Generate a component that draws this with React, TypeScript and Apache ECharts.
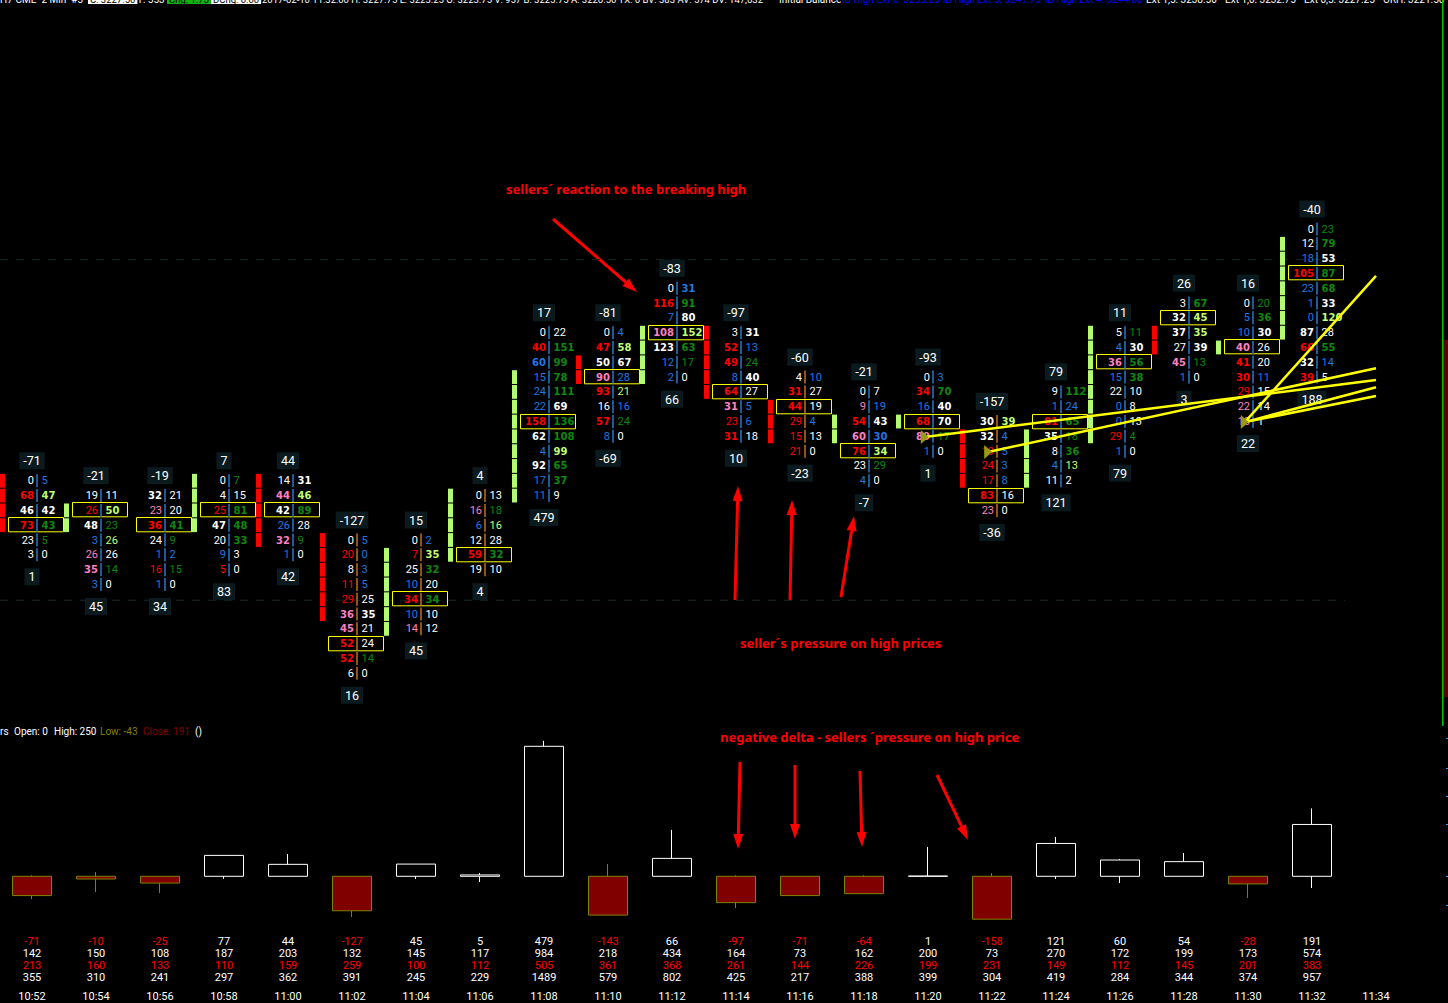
import React, { useEffect, useRef } from "react";
import * as echarts from "echarts";

const times = ["10:52","10:54","10:56","10:58","11:00","11:02","11:04","11:06","11:08","11:10","11:12","11:14","11:16","11:18","11:20","11:22","11:24","11:26","11:28","11:30","11:32","11:34"];

// Footprint per bar: [bid, ask] rows from the top price downward
const footprints: number[][][] = [
  [[0,5],[68,47],[46,42],[73,43],[23,5],[3,0]],
  [[19,11],[26,50],[48,23],[3,26],[26,26],[35,14],[3,0]],
  [[32,21],[23,20],[36,41],[24,9],[1,2],[16,15],[1,0]],
  [[0,7],[4,15],[25,81],[47,48],[20,33],[9,3],[5,0]],
  [[14,31],[44,46],[42,89],[26,28],[32,9],[1,0]],
  [[0,5],[20,0],[8,3],[11,5],[29,25],[36,35],[45,21],[52,24],[52,14],[6,0]],
  [[0,2],[7,35],[25,32],[10,20],[34,34],[10,10],[14,12]],
  [[0,13],[16,18],[6,16],[12,28],[59,32],[19,10]],
  [[0,22],[40,151],[60,99],[15,78],[24,111],[22,69],[158,136],[62,108],[4,99],[92,65],[17,37],[11,9]],
  [[0,4],[47,58],[50,67],[90,28],[93,21],[16,16],[57,24],[8,0]],
  [[0,31],[116,91],[7,80],[108,152],[123,63],[12,17],[2,0]],
  [[3,31],[52,13],[49,24],[8,40],[64,27],[31,5],[23,6],[31,18]],
  [[4,10],[31,27],[44,19],[29,4],[15,13],[21,0]],
  [[0,7],[9,19],[54,43],[60,30],[76,34],[23,29],[4,0]],
  [[0,3],[34,70],[16,40],[68,70],[89,17],[1,0]],
  [[30,39],[32,4],[19,5],[24,3],[17,8],[83,16],[23,0]],
  [[9,112],[1,24],[81,65],[35,18],[8,36],[4,13],[11,2]],
  [[5,11],[4,30],[36,56],[15,38],[22,10],[0,8],[0,13],[29,4],[1,0]],
  [[3,67],[32,45],[37,35],[27,39],[45,13],[1,0]],
  [[0,20],[5,36],[10,30],[40,26],[41,20],[30,11],[29,15],[22,14],[18,1]],
  [[0,23],[12,79],[18,53],[105,87],[23,68],[1,33],[0,120],[87,28],[66,55],[32,14],[39,5]],
];
const topPrices = [3223.5,3223.25,3223.25,3223.5,3223.5,3222.5,3222.5,3223.25,3226,3226,3226.75,3226,3225.25,3225,3225.25,3224.5,3225,3226,3226.5,3226.5,3227.75];
const pocRows = [3,1,2,2,2,7,4,4,6,3,3,4,2,4,3,5,2,2,1,3,3];
const deltaAbove = [-71,-21,-19,7,44,-127,15,4,17,-81,-83,-97,-60,-21,-93,-157,79,11,26,16,-40];
const deltaBelow = [1,45,34,83,42,16,45,4,479,-69,66,10,-23,-7,1,-36,121,79,3,22,188];

// Imbalance stacks: [bar, buy(1)/sell(0), top price, rows]
const stacks: number[][] = [
  [0,0,3223.5,4],[1,1,3223,2],[3,1,3223.5,4],[4,0,3223.5,5],[5,0,3222.5,6],[6,1,3222.25,6],[7,1,3223.25,5],
  [8,1,3225.25,9],[9,0,3225.5,2],[10,1,3226,4],[11,0,3226,5],[12,0,3224.75,3],[13,1,3224.5,2],[14,1,3224.5,1],
  [15,0,3224.25,4],[16,1,3224.25,4],[17,1,3226,8],[18,0,3226,2],[19,1,3225.75,1],[20,1,3227.5,7],
];

// Candle values
const deltaClose = [-71,-10,-25,77,44,-127,45,5,479,-143,66,-97,-71,-64,1,-158,121,60,54,-28,191];
const deltaHigh = [4,16,0,77,82,0,45,12,499,45,171,4,0,4,108,12,145,63,86,0,250];
const deltaLow = [-84,-58,-62,-9,0,-150,-10,-21,0,-143,0,-117,-71,-64,0,-158,-10,-25,0,-80,-43];
const askVolume = [142,150,108,187,203,132,145,117,984,218,434,164,73,162,200,73,270,172,199,173,574];
const bidVolume = [213,160,133,110,159,259,100,112,505,361,368,261,144,226,199,231,149,112,145,201,383];
const totalVolume = [355,310,241,297,362,391,245,229,1489,579,802,425,217,388,399,304,419,284,344,374,957];

const levelPrices = [3227.25, 3221.5];
// Yellow rays: [fromBar, fromPrice, toBar, toPrice]
const rays: number[][] = [
  [13.95,3224.24,21,3225.20],
  [14.94,3223.985,21,3225.40],
  [18.95,3224.49,21,3225.08],
  [18.95,3224.49,21,3224.93],
  [18.95,3224.49,21,3226.96],
];
const rayMarkers = [[13.95,3224.24],[14.94,3223.985],[18.95,3224.49]];

const headerBits: [string, number, string, string?][] = [
  ["H7-CME  2 Min  #5", 0, "#fff"],
  ["C: 3227.50", 88, "#000", "#fff"],
  ["T: 553", 137, "#fff"],
  ["Chg: 1.75", 167, "#000", "#0fb40f"],
  ["DChg: 0.00", 211, "#000", "#fff"],
  ["2017-02-10 11:32:00 H: 3227.75 L: 3223.25 O: 3223.75 V: 957 B: 3225.75 A: 3226.50 TX: 6 BV: 383 AV: 574 DV: 147,632", 262, "#fff"],
  ["Initial Balance", 779, "#fff"],
  ["IB High Ext 6: 3255.25", 842, "#0000ff"],
  ["IB High Ext 5: 3249.75", 943, "#0000ff"],
  ["IB High Ext 4: 3244.00", 1045, "#0000ff"],
  ["Ext 1,5: 3238.50", 1146, "#fff"],
  ["Ext 1,0: 3232.75", 1225, "#fff"],
  ["Ext 0,5: 3227.25", 1304, "#fff"],
  ["ORH: 3221.50", 1383, "#fff"],
];
const legendBits: [string, number, string][] = [
  ["rs", 0, "#fff"], ["Open: 0", 14, "#fff"], ["High: 250", 54, "#fff"],
  ["Low: -43", 100, "#808000"], ["Close: 191", 143, "#800000"], ["()", 195, "#fff"],
];
const notes: [string, number, number][] = [
  ["sellers´ reaction to the breaking high", 506, 189],
  ["seller´s pressure on high prices", 740, 643],
  ["negative delta - sellers ´pressure on high price", 720, 737],
];
const arrows: number[][] = [
  [553,219,637,292],[735,600,738,486],[790,600,792,500],[841,597,854,516],
  [740,762,738,849],[795,765,795,839],[860,771,862,847],[937,775,968,840],
];
const edgeTicks = [738, 768, 796, 824, 876, 905];

const ROW = 0.25;
const orangeSep = new Set([5, 6, 7, 12, 15]);
const TXT_R = "#ff0000", TXT_P = "#ff80c0", TXT_G = "#0a8a0a", TXT_L = "#c0ff70", TXT_B = "#1e78e6", TXT_W = "#ffffff";

function tone(own: number, other: number | undefined, strong: string, mild: string) {
  if (other === undefined || other === 0) return TXT_W;
  const r = own / other;
  if (r < 0.4) return TXT_B;
  if (r < 1) return TXT_W;
  if (r < 1.5) return mild;
  return strong;
}
function cellFont(v: number) {
  return v >= 30
    ? { fontFamily: "DejaVu Sans", fontWeight: "bold" as const, fontSize: 10 }
    : { fontFamily: "Roboto", fontWeight: "normal" as const, fontSize: 11 };
}

const cellRows: any[] = [];
footprints.forEach((rows, bar) => rows.forEach((pair, row) => {
  cellRows.push([bar, topPrices[bar] - row * ROW, pair[0], pair[1], row === pocRows[bar] ? 1 : 0,
    tone(pair[0], row > 0 ? rows[row - 1][1] : undefined, TXT_R, TXT_P),
    tone(pair[1], row < rows.length - 1 ? rows[row + 1][0] : undefined, TXT_G, TXT_L)]);
}));
const stackRows: number[][] = [];
stacks.forEach(([bar, buy, top, n]) => { for (let i = 0; i < n; i++) stackRows.push([bar, top - i * ROW, buy]); });

function renderCell(_: any, api: any) {
  const bar = api.value(0), price = api.value(1), bid = api.value(2), ask = api.value(3), poc = api.value(4);
  const [x, y] = api.coord([bar, price]);
  const pitch = api.size([0, ROW])[1];
  const sepX = x + 5;
  const kids: any[] = [];
  if (poc) kids.push({ type: "rect", shape: { x: Math.round(x) - 24 + 0.5, y: Math.round(y) - 7.5, width: 55, height: pitch - 0.5 }, style: { fill: "none", stroke: "#ffff00", lineWidth: 1 } });
  kids.push({ type: "rect", shape: { x: sepX - 0.75, y: y - 6.5, width: 1.5, height: 13 }, style: { fill: orangeSep.has(bar) ? "#c07020" : "#2a78c8" } });
  kids.push({ type: "text", style: { text: String(bid), x: sepX - 3, y, align: "right", verticalAlign: "middle", fill: api.value(5), ...cellFont(bid) } });
  kids.push({ type: "text", style: { text: String(ask), x: sepX + 4.5, y, align: "left", verticalAlign: "middle", fill: api.value(6), ...cellFont(ask) } });
  return { type: "group", children: kids };
}
function renderStack(_: any, api: any) {
  const [x, y] = api.coord([api.value(0), api.value(1)]);
  const pitch = api.size([0, ROW])[1];
  return { type: "rect", shape: { x: x - 32, y: y - pitch / 2 + 0.5, width: 5, height: pitch - 1 }, style: { fill: api.value(2) ? "#b4fa6e" : "#ff0000" } };
}
function deltaBox(text: string, x: number, y: number) {
  return { type: "text", style: { text, x, y, align: "center", verticalAlign: "middle", fill: "#fff", fontFamily: "Roboto", fontSize: 12.5, backgroundColor: "#0a1a1e", padding: [2, 4, 2, 4] } };
}
function renderDelta(_: any, api: any) {
  const bar = api.value(0);
  const [x, yTop] = api.coord([bar, api.value(1)]);
  const [, yBot] = api.coord([bar, api.value(2)]);
  return { type: "group", children: [deltaBox(String(api.value(3)), x, yTop - 20), deltaBox(String(api.value(4)), x, yBot + 22)] };
}
function renderLevel(_: any, api: any) {
  const y = api.coord([0, api.value(0)])[1] + 1;
  return { type: "line", shape: { x1: 0, y1: y, x2: 1345, y2: y }, style: { stroke: "#162828", lineWidth: 1, lineDash: [8, 8] } };
}
function renderRay(_: any, api: any) {
  const a = api.coord([api.value(0), api.value(1)]);
  const b = api.coord([api.value(2), api.value(3)]);
  return { type: "line", shape: { x1: a[0], y1: a[1], x2: b[0], y2: b[1] }, style: { stroke: "#ffff00", lineWidth: 2.5 } };
}
function renderMarker(_: any, api: any) {
  const [x, y] = api.coord([api.value(0), api.value(1)]);
  return { type: "polygon", shape: { points: [[x - 4, y - 7], [x + 4, y], [x - 4, y + 7]] }, style: { fill: "#9a9a10" } };
}
function renderFootText(_: any, api: any) {
  const i = api.value(0);
  const [x] = api.coord([i, 0]);
  const d = api.value(1);
  const t = (text: any, y: number, fill: string) => ({ type: "text", style: { text: String(text), x, y, align: "center", verticalAlign: "middle", fill, fontFamily: "Roboto", fontSize: 11 } });
  return { type: "group", children: [t(d, 941, d < 0 ? "#ff0000" : "#fff"), t(api.value(2), 953, "#fff"), t(api.value(3), 965, "#ff0000"), t(api.value(4), 977, "#fff")] };
}

function arrowGraphics() {
  const out: any[] = [];
  arrows.forEach(([x1, y1, x2, y2]) => {
    const a = Math.atan2(y2 - y1, x2 - x1);
    const L = 15, W = 5;
    const bx = x2 - L * Math.cos(a), by = y2 - L * Math.sin(a);
    out.push({ type: "line", shape: { x1, y1, x2: bx, y2: by }, style: { stroke: "#ff0000", lineWidth: 3 } });
    out.push({ type: "polygon", shape: { points: [[x2, y2], [bx - W * Math.sin(a), by + W * Math.cos(a)], [bx + W * Math.sin(a), by - W * Math.cos(a)]] }, style: { fill: "#ff0000" } });
  });
  return out;
}

export default function App() {
  const ref = useRef<HTMLDivElement>(null);
  useEffect(() => {
    document.body.style.margin = "0";
    document.body.style.background = "#000";
    const chart = echarts.init(ref.current!, undefined, { renderer: "svg" });
    const PX = 14.81;
    const priceMax = 3227.75 + (229 / PX) * ROW;
    const priceMin = priceMax - (725 / PX) * ROW;
    const zero = 876.3, perUnit = 0.2714, gTop = 730, gBot = 985;
    const option: any = {
      animation: false,
      backgroundColor: "#000",
      grid: [
        { left: 0, top: 0, width: 1408, height: 725 },
        { left: 0, top: gTop, width: 1408, height: gBot - gTop },
      ],
      xAxis: [
        { gridIndex: 0, type: "value", min: -0.5, max: 21.5, show: false },
        { gridIndex: 1, type: "category", data: times, axisLine: { show: false }, axisTick: { show: false }, axisLabel: { color: "#fff", fontFamily: "Roboto", fontSize: 11, margin: 6, interval: 0 } },
      ],
      yAxis: [
        { gridIndex: 0, type: "value", min: priceMin, max: priceMax, show: false, scale: true },
        { gridIndex: 1, type: "value", min: -(gBot - zero) / perUnit, max: (zero - gTop) / perUnit, show: false },
      ],
      series: [
        { type: "custom", xAxisIndex: 0, yAxisIndex: 0, renderItem: renderLevel, data: levelPrices.map((p) => [p]), encode: { y: 0 }, clip: false, silent: true },
        { type: "custom", xAxisIndex: 0, yAxisIndex: 0, renderItem: renderStack, data: stackRows, silent: true },
        { type: "custom", xAxisIndex: 0, yAxisIndex: 0, renderItem: renderCell, data: cellRows, silent: true },
        { type: "custom", xAxisIndex: 0, yAxisIndex: 0, renderItem: renderDelta, silent: true, data: footprints.map((rows, i) => [i, topPrices[i], topPrices[i] - (rows.length - 1) * ROW, deltaAbove[i], deltaBelow[i]]) },
        { type: "custom", xAxisIndex: 0, yAxisIndex: 0, renderItem: renderRay, data: rays, silent: true },
        { type: "custom", xAxisIndex: 0, yAxisIndex: 0, renderItem: renderMarker, data: rayMarkers, silent: true },
        {
          type: "candlestick", xAxisIndex: 1, yAxisIndex: 1, barWidth: 39, silent: true,
          data: deltaClose.map((c, i) => [0, c, deltaLow[i], deltaHigh[i]]),
          itemStyle: { color: "#000", color0: "#800000", borderColor: "#fff", borderColor0: "#808000", borderWidth: 1 },
        },
        { type: "custom", xAxisIndex: 1, yAxisIndex: 1, renderItem: renderFootText, silent: true, clip: false, data: deltaClose.map((d, i) => [i, d, askVolume[i], bidVolume[i], totalVolume[i]]) },
      ],
      graphic: [
        ...headerBits.map(([text, x, fill, bg]) => ({ type: "text", x, y: -6, silent: true, style: { text, fill, fontFamily: "Roboto", fontSize: bg || text.length > 40 ? 9.5 : 10, backgroundColor: bg, padding: bg ? [0, 2, 0, 2] : 0 } })),
        ...legendBits.map(([text, x, fill]) => ({ type: "text", x, y: 726, silent: true, style: { text, fill, fontFamily: "Roboto", fontSize: 10 } })),
        ...notes.map(([text, x, y]) => ({ type: "text", x, y: y - 7, silent: true, style: { text, fill: "#ff0000", fontFamily: "Noto Sans", fontWeight: "bold", fontSize: 13, letterSpacing: 0.6 } })),
        ...arrowGraphics().map((g) => ({ ...g, silent: true })),
        { type: "rect", silent: true, shape: { x: 1443, y: 340, width: 5, height: 357 }, style: { fill: "#600000" } },
        { type: "rect", silent: true, shape: { x: 1442, y: 0, width: 1.5, height: 726 }, style: { fill: "#00c000" } },
        ...edgeTicks.map((y) => ({ type: "rect", silent: true, shape: { x: 1446, y, width: 2, height: 1 }, style: { fill: "#4090e0" } })),
      ],
    };
    chart.setOption(option);
    return () => chart.dispose();
  }, []);
  return <div ref={ref} style={{ width: 1448, height: 1003 }} />;
}
